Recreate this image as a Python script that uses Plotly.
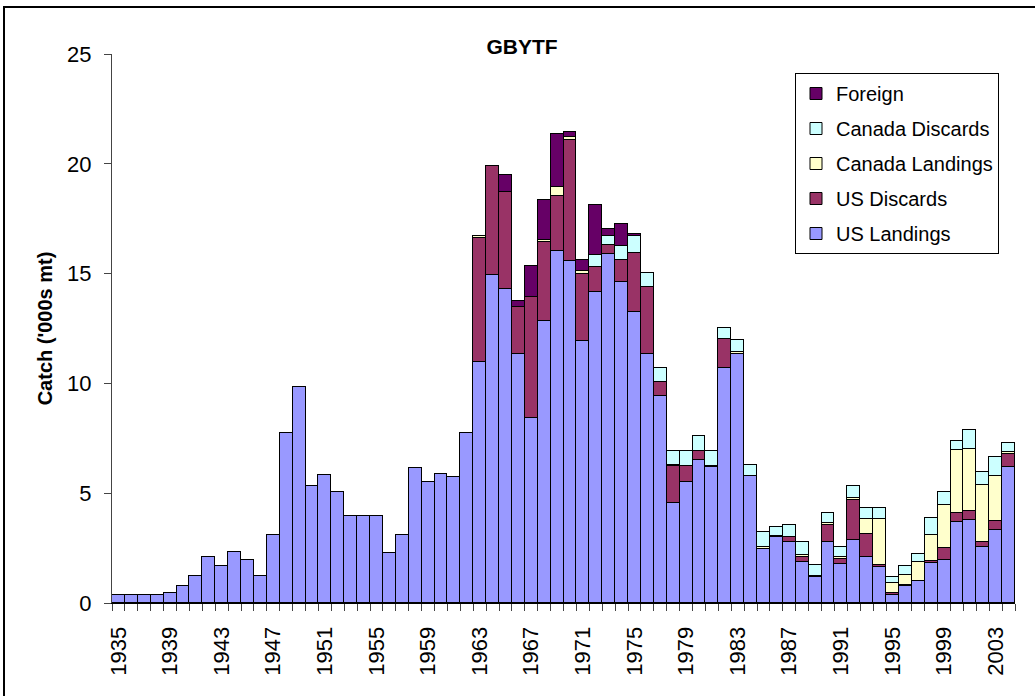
import plotly.graph_objects as go

years = list(range(1935, 2005))

us_landings = [
    0.35, 0.35, 0.35, 0.35, 0.47, 0.77, 1.24, 2.08, 1.70, 2.32,
    1.94, 1.24, 3.11, 7.74, 9.82, 5.34, 5.81, 5.04, 3.96, 3.96,
    3.96, 2.26, 3.11, 6.13, 5.49, 5.89, 5.74, 7.74, 10.96, 14.92,
    14.31, 11.35, 8.42, 12.84, 16.01, 15.56, 11.91, 14.14, 15.91, 14.62,
    13.23, 11.35, 9.44, 4.55, 5.49, 6.49, 6.18, 10.70, 11.35, 5.80,
    2.47, 2.99, 2.76, 1.85, 1.17, 2.76, 1.78, 2.85, 2.09, 1.62,
    0.38, 0.76, 0.98, 1.82, 1.97, 3.69, 3.79, 2.55, 3.34, 6.18]

us_discards = [0] * 28 + [
    5.66, 4.96,
    4.39, 2.11, 5.50, 3.61, 2.54, 5.54, 3.09, 1.16, 0.39, 1.01,
    2.71, 3.02, 0.61, 1.67, 0.73, 0.45, 0, 1.32, 0, 0,
    0, 0, 0.24, 0.24, 0, 0.79, 0.22, 1.85, 1.07, 0.12,
    0.08, 0.08, 0, 0.08, 0.53, 0.41, 0.41, 0.23, 0.41, 0.61]

canada_landings = [0] * 28 + [
    0.10, 0,
    0, 0, 0, 0.10, 0.38, 0.10, 0.10, 0, 0, 0,
    0, 0, 0, 0.08, 0, 0, 0.08, 0, 0.08, 0,
    0.08, 0.08, 0, 0.08, 0.08, 0.08, 0.08, 0.08, 0.68, 2.10,
    0.45, 0.45, 0.87, 1.18, 1.98, 2.85, 2.83, 2.61, 2.05, 0.08]

canada_discards = [0] * 30 + [
    0, 0, 0, 0, 0, 0, 0, 0.55, 0.40, 0.61,
    0.76, 0.64, 0.63, 0.64, 0.72, 0.65, 0.68, 0.50, 0.56, 0.47,
    0.68, 0.40, 0.53, 0.61, 0.49, 0.47, 0.45, 0.56, 0.47, 0.47,
    0.26, 0.41, 0.39, 0.79, 0.56, 0.41, 0.86, 0.56, 0.85, 0.40]

foreign = [0] * 30 + [
    0.80, 0.31, 1.41, 1.80, 2.43, 0.25, 0.53, 2.26, 0.35, 1.02,
    0.10, 0, 0, 0, 0, 0, 0, 0, 0, 0,
    0, 0, 0, 0, 0, 0, 0, 0, 0, 0,
    0, 0, 0, 0, 0, 0, 0, 0, 0, 0]

series = [
    ("US Landings", us_landings, "#9999FF"),
    ("US Discards", us_discards, "#993366"),
    ("Canada Landings", canada_landings, "#FFFFCC"),
    ("Canada Discards", canada_discards, "#CCFFFF"),
    ("Foreign", foreign, "#660066"),
]

tick_years = list(range(1935, 2005, 4))

# plot area in page pixels
PL, PR, PT, PB = 112, 1015, 54, 603
W = PR - PL
H = PB - PT
FW, FH = 1035, 696

fig = go.Figure()
for i, (name, vals, color) in enumerate(series):
    fig.add_trace(go.Bar(
        x=years,
        y=[v if v else None for v in vals],
        name=name,
        marker=dict(color=color, line=dict(color="black", width=1)),
        legendgroup=name,
        legendrank=100 - i,
    ))

FONT = "Arial, Liberation Sans, sans-serif"

fig.update_layout(
    barmode="stack",
    bargap=0,
    width=FW,
    height=FH,
    margin=dict(l=PL, r=FW - PR, t=PT, b=FH - PB),
    paper_bgcolor="white",
    plot_bgcolor="white",
    font=dict(family=FONT, color="black", size=20),
    title=dict(text="<b>GBYTF</b>", x=(522 - PL) / W, xref="paper", xanchor="center",
               y=1 - 47 / FH, yanchor="middle", font=dict(size=21, family=FONT)),
    showlegend=True,
    legend=dict(
        x=(795 - PL) / W, y=(PB - 73) / H, xanchor="left", yanchor="top",
        traceorder="grouped", tracegroupgap=6,
        bordercolor="black", borderwidth=1, bgcolor="white",
        font=dict(size=20, family=FONT),
    ),
    xaxis=dict(
        range=[1934.5, 2004.5],
        tickmode="array",
        tickvals=tick_years,
        ticktext=[str(y) for y in tick_years],
        tickangle=-90,
        ticks="",
        tickfont=dict(size=22, family=FONT),
        showline=True, linecolor="black", linewidth=1,
        showgrid=False, zeroline=False,
        ticklabelstandoff=14,
        minor=dict(tick0=1934.5, dtick=1, ticks="outside", ticklen=7,
                   tickcolor="#444", showgrid=False),
    ),
    yaxis=dict(
        range=[0, 25],
        tickvals=[0, 5, 10, 15, 20, 25],
        ticks="outside", ticklen=7, tickcolor="#444",
        tickfont=dict(size=22, family=FONT),
        showline=True, linecolor="#444", linewidth=1,
        showgrid=False, zeroline=False,
        ticklabelstandoff=8,
        title=dict(text="<b>Catch ('000s mt)</b>", font=dict(size=20, family=FONT), standoff=9),
    ),
)

# outer chart border
fig.add_shape(type="rect", xref="paper", yref="paper",
              x0=(4 - PL) / W, x1=1.06, y0=-0.25, y1=(PB - 7) / H,
              line=dict(color="black", width=2), fillcolor="rgba(0,0,0,0)", layer="below")

fig.write_html("out.html", config={"displayModeBar": False},
               post_script="document.body.style.margin='0';")
